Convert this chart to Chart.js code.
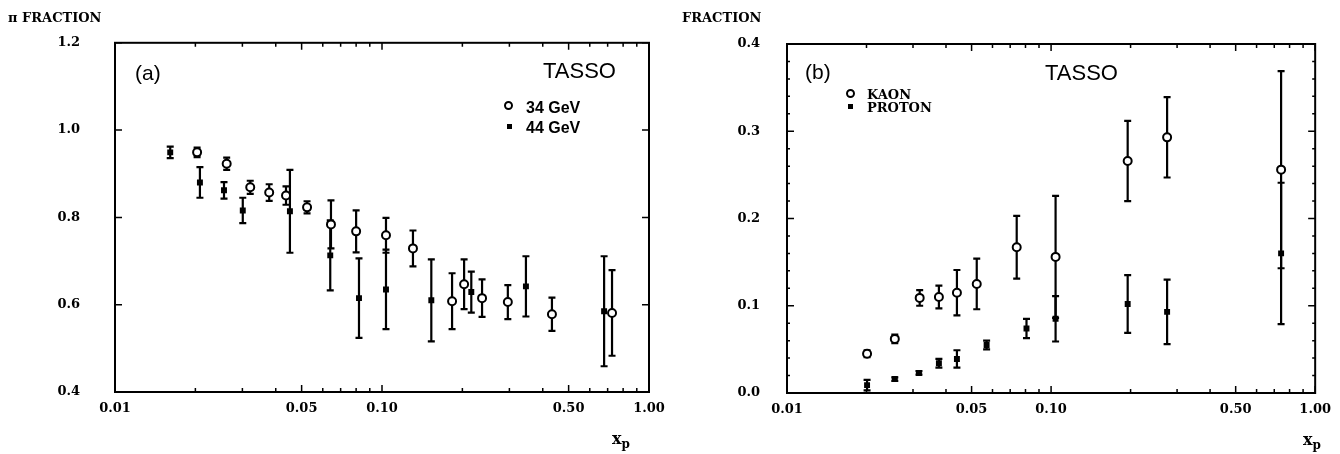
<!DOCTYPE html>
<html>
<head>
<meta charset="utf-8">
<script src="https://cdn.jsdelivr.net/npm/chart.js@4.4.0/dist/chart.umd.min.js"></script>
<style>
  body { margin: 0; background: #fff; width: 1340px; height: 454px; overflow: hidden; position: relative; }
  canvas { position: absolute; top: 0; }
  .txt { position: absolute; color: #000; white-space: nowrap; line-height: 1; }
  .serif { font-family: "DejaVu Serif", serif; font-weight: bold; }
  .sans { font-family: "Liberation Sans", Arial, sans-serif; }
  .open { position: absolute; width: 5px; height: 5px; border: 2px solid #000; border-radius: 50%; background: #fff; }
  .fill { position: absolute; width: 5px; height: 5px; background: #000; }
</style>
</head>
<body>
<canvas id="chartA" width="680" height="454" style="left:0"></canvas>
<canvas id="chartB" width="660" height="454" style="left:680px"></canvas>

<div class="txt serif" style="left:8px;top:11px;font-size:13px">&pi; FRACTION</div>
<div class="txt serif" style="left:682px;top:11px;font-size:13px">FRACTION</div>
<div class="txt serif" style="left:612px;top:431px;font-size:16px">x<sub style="font-size:12px">p</sub></div>
<div class="txt serif" style="left:1303px;top:432px;font-size:16px">x<sub style="font-size:12px">p</sub></div>

<div class="txt sans" style="left:135px;top:62px;font-size:21px">(a)</div>
<div class="txt sans" style="left:543px;top:60px;font-size:22px">TASSO</div>
<div class="open" style="left:504px;top:101px"></div>
<div class="txt sans" style="left:526px;top:100px;font-size:16px;font-weight:bold">34 GeV</div>
<div class="fill" style="left:507px;top:124px"></div>
<div class="txt sans" style="left:526px;top:120px;font-size:16px;font-weight:bold">44 GeV</div>

<div class="txt sans" style="left:805px;top:61px;font-size:21px">(b)</div>
<div class="txt sans" style="left:1045px;top:62px;font-size:22px">TASSO</div>
<div class="open" style="left:846px;top:89px"></div>
<div class="txt serif" style="left:867px;top:88px;font-size:13px">KAON</div>
<div class="fill" style="left:848px;top:104px"></div>
<div class="txt serif" style="left:867px;top:101px;font-size:13px">PROTON</div>

<script>
// ---- panel (a): pion fraction ----
const pi34X   = [0.0203, 0.0262, 0.0321, 0.0378, 0.0437, 0.0524, 0.0644, 0.0800, 0.1035, 0.1306, 0.183, 0.203, 0.237, 0.296, 0.433, 0.727];
const pi34Y   = [0.949, 0.923, 0.869, 0.857, 0.850, 0.823, 0.784, 0.768, 0.759, 0.729, 0.608, 0.647, 0.615, 0.606, 0.578, 0.581];
const pi34Err = [0.011, 0.014, 0.015, 0.019, 0.021, 0.014, 0.055, 0.048, 0.040, 0.041, 0.064, 0.057, 0.043, 0.039, 0.038, 0.098];

const pi44X   = [0.0161, 0.0208, 0.0256, 0.0301, 0.0452, 0.0640, 0.082, 0.1035, 0.153, 0.216, 0.346, 0.679];
const pi44Y   = [0.949, 0.880, 0.862, 0.816, 0.814, 0.713, 0.615, 0.635, 0.610, 0.629, 0.642, 0.585];
const pi44Err = [0.013, 0.035, 0.019, 0.029, 0.095, 0.080, 0.091, 0.091, 0.094, 0.047, 0.069, 0.126];

// ---- panel (b): kaon and proton fraction ----
const kaonX   = [0.0201, 0.0256, 0.0318, 0.0376, 0.0440, 0.0523, 0.0741, 0.104, 0.195, 0.275, 0.743];
const kaonY   = [0.045, 0.062, 0.109, 0.110, 0.115, 0.125, 0.167, 0.156, 0.266, 0.293, 0.256];
const kaonErr = [0.004, 0.005, 0.009, 0.013, 0.026, 0.029, 0.036, 0.070, 0.046, 0.046, 0.113];

const protonX   = [0.0201, 0.0256, 0.0316, 0.0376, 0.0440, 0.057, 0.0807, 0.104, 0.195, 0.275, 0.743];
const protonY   = [0.009, 0.016, 0.023, 0.034, 0.039, 0.055, 0.074, 0.085, 0.102, 0.093, 0.160];
const protonErr = [0.006, 0.002, 0.002, 0.005, 0.010, 0.005, 0.011, 0.026, 0.033, 0.037, 0.081];

// ---- axis ticks ----
const xTickValues = [0.01, 0.05, 0.1, 0.5, 1];
const xTickLabels = ['0.01', '0.05', '0.10', '0.50', '1.00'];
const xMinorTicks = [0.02, 0.03, 0.04, 0.06, 0.07, 0.08, 0.09, 0.2, 0.3, 0.4, 0.6, 0.7, 0.8, 0.9];
const yTicksA = [0.4, 0.6, 0.8, 1.0, 1.2];
const yTicksB = [0.0, 0.1, 0.2, 0.3, 0.4];
const yMinorB = [0.02, 0.04, 0.06, 0.08, 0.12, 0.14, 0.16, 0.18, 0.22, 0.24, 0.26, 0.28, 0.32, 0.34, 0.36, 0.38];

const tickFont = { family: 'DejaVu Serif', weight: 'bold', size: 13 };

function points(xs, ys) {
  return xs.map((x, i) => ({ x: x, y: ys[i] }));
}

function openSet(xs, ys, err) {
  return {
    data: points(xs, ys), errors: err,
    pointStyle: 'circle', pointRadius: 4, borderWidth: 2,
    borderColor: '#000', backgroundColor: '#fff', showLine: false
  };
}

function filledSet(xs, ys, err) {
  return {
    data: points(xs, ys), errors: err,
    pointStyle: 'rect', pointRadius: 4.2, borderWidth: 0,
    borderColor: '#000', backgroundColor: '#000', showLine: false
  };
}

// error bars with caps, drawn through the chart scales
const errorBars = {
  id: 'errorBars',
  beforeDatasetsDraw(chart) {
    const ctx = chart.ctx;
    const xs = chart.scales.x, ys = chart.scales.y;
    ctx.save();
    ctx.strokeStyle = '#000';
    ctx.lineWidth = 2.2;
    chart.data.datasets.forEach((ds) => {
      ds.data.forEach((p, i) => {
        const e = ds.errors[i];
        const px = xs.getPixelForValue(p.x);
        const top = ys.getPixelForValue(p.y + e);
        const bot = ys.getPixelForValue(p.y - e);
        ctx.beginPath();
        ctx.moveTo(px, top); ctx.lineTo(px, bot);
        ctx.moveTo(px - 3.5, top); ctx.lineTo(px + 3.5, top);
        ctx.moveTo(px - 3.5, bot); ctx.lineTo(px + 3.5, bot);
        ctx.stroke();
      });
    });
    ctx.restore();
  }
};

// frame and inward ticks on all four sides
const frame = {
  id: 'frame',
  afterDraw(chart, args, opts) {
    const ctx = chart.ctx;
    const a = chart.chartArea;
    const xs = chart.scales.x, ys = chart.scales.y;
    ctx.save();
    ctx.strokeStyle = '#000';
    ctx.lineWidth = 2;
    ctx.strokeRect(a.left, a.top, a.right - a.left, a.bottom - a.top);
    ctx.lineWidth = 1.5;
    ctx.beginPath();
    xTickValues.concat(xMinorTicks).forEach((v) => {
      const len = xTickValues.includes(v) ? 7 : 4;
      const px = xs.getPixelForValue(v);
      ctx.moveTo(px, a.bottom); ctx.lineTo(px, a.bottom - len);
      ctx.moveTo(px, a.top); ctx.lineTo(px, a.top + len);
    });
    opts.yMajor.forEach((v) => {
      const py = ys.getPixelForValue(v);
      ctx.moveTo(a.left, py); ctx.lineTo(a.left + 7, py);
      ctx.moveTo(a.right, py); ctx.lineTo(a.right - 7, py);
    });
    opts.yMinor.forEach((v) => {
      const py = ys.getPixelForValue(v);
      ctx.moveTo(a.left, py); ctx.lineTo(a.left + 3, py);
      ctx.moveTo(a.right, py); ctx.lineTo(a.right - 3, py);
    });
    ctx.stroke();
    ctx.restore();
  }
};

function makeChart(id, datasets, yMin, yMax, yTicks, yMinor, box) {
  const cv = document.getElementById(id);
  return new Chart(cv.getContext('2d'), {
    type: 'scatter',
    data: { datasets: datasets },
    options: {
      responsive: false,
      animation: false,
      layout: { padding: { left: 0, right: box.right, top: box.top, bottom: 0 } },
      plugins: {
        legend: { display: false },
        tooltip: { enabled: false },
        frame: { yMajor: yTicks, yMinor: yMinor }
      },
      scales: {
        x: {
          type: 'logarithmic', min: 0.01, max: 1,
          afterBuildTicks: (s) => { s.ticks = xTickValues.map((v) => ({ value: v })); },
          afterFit: (s) => { s.height = box.xh; },
          grid: { display: false, drawTicks: false },
          border: { display: false },
          ticks: {
            autoSkip: false, maxRotation: 0, padding: 9, color: '#000', font: tickFont,
            callback: (v) => xTickLabels[xTickValues.indexOf(v)]
          }
        },
        y: {
          min: yMin, max: yMax,
          afterBuildTicks: (s) => { s.ticks = yTicks.map((v) => ({ value: v })); },
          afterFit: (s) => { s.width = box.yw; },
          grid: { display: false, drawTicks: false },
          border: { display: false },
          ticks: {
            padding: box.ypad, color: '#000', font: tickFont,
            callback: (v) => Number(v).toFixed(1)
          }
        }
      }
    },
    plugins: [errorBars, frame]
  });
}

makeChart('chartA',
  [openSet(pi34X, pi34Y, pi34Err), filledSet(pi44X, pi44Y, pi44Err)],
  0.4, 1.2, yTicksA, [],
  { right: 31, top: 42, xh: 62, yw: 115, ypad: 35 });

makeChart('chartB',
  [openSet(kaonX, kaonY, kaonErr), filledSet(protonX, protonY, protonErr)],
  0.0, 0.4, yTicksB, yMinorB,
  { right: 24, top: 44, xh: 61, yw: 107, ypad: 27 });
</script>
</body>
</html>
